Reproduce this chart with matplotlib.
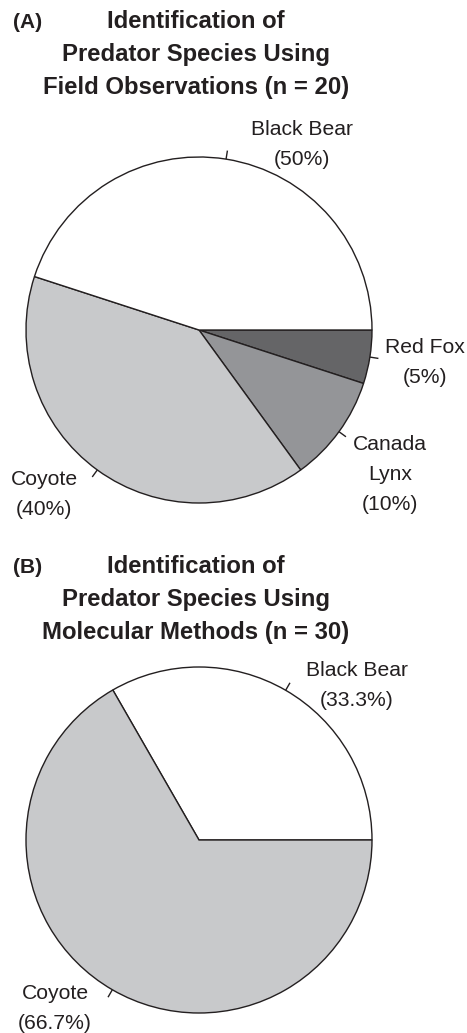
import numpy as np
import matplotlib
matplotlib.use("Agg")
import matplotlib.pyplot as plt

# ---------------- data ----------------
panel_a_tag = "(A)"
panel_a_title = ["Identification of", "Predator Species Using", "Field Observations (n = 20)"]
species_a = ["Black Bear", "Coyote", "Canada\nLynx", "Red Fox"]
pct_a = [50, 40, 10, 5]

panel_b_tag = "(B)"
panel_b_title = ["Identification of", "Predator Species Using", "Molecular Methods (n = 30)"]
species_b = ["Black Bear", "Coyote"]
pct_b = [33.3, 66.7]

colors = {"Black Bear": "#ffffff", "Coyote": "#c8c9cb", "Canada\nLynx": "#949598", "Red Fox": "#656567"}
EDGE = "#231f20"
TXT = "#231f20"
FONT = "Liberation Sans"

W, H = 467, 1033
fig = plt.figure(figsize=(W / 100, H / 100), dpi=100)


def fx(x):
    return x / W


def fy(y):
    return 1 - y / H


def make_ax(cx, cy, r):
    ax = fig.add_axes([fx(cx - r), fy(cy + r), 2 * r / W, 2 * r / H])
    return ax


def draw_pie(ax, sizes, names, counterclock):
    wedges, _ = ax.pie(sizes, startangle=0, counterclock=counterclock,
                       colors=[colors[n] for n in names],
                       wedgeprops=dict(edgecolor=EDGE, linewidth=1.0))
    ax.set_xlim(-1, 1)
    ax.set_ylim(-1, 1)
    ax.set_aspect("auto")
    ax.axis("off")
    for w in wedges:
        w.set_clip_on(False)
        mid = np.deg2rad((w.theta1 + w.theta2) / 2)
        ax.plot([np.cos(mid), 1.05 * np.cos(mid)], [np.sin(mid), 1.05 * np.sin(mid)],
                color=EDGE, lw=1.0, clip_on=False, solid_capstyle="butt")
    return wedges


def label(x, y, name, pct, spacing=30):
    lines = name.split("\n") + [f"({pct:g}%)"]
    for i, ln in enumerate(lines):
        fig.text(fx(x), fy(y + i * spacing), ln, ha="center", va="baseline",
                 fontsize=15.2, color=TXT, family=FONT)


def title(tag, lines, y0):
    fig.text(fx(13), fy(y0), tag, ha="left", va="baseline", fontsize=15,
             fontweight="bold", color=TXT, family=FONT)
    for i, ln in enumerate(lines):
        fig.text(fx(196), fy(y0 + i * 33), ln, ha="center", va="baseline",
                 fontsize=17.2, fontweight="bold", color=TXT, family=FONT)


# ---------------- panel A ----------------
title(panel_a_tag, panel_a_title, 28)
axA = make_ax(199, 330, 173)
# drawn clockwise from east: Red Fox, Canada Lynx, Coyote, then Black Bear fills the rest
order_a = [3, 2, 1]
sizes_a = [pct_a[i] for i in order_a]
sizes_a.append(100 - sum(sizes_a))
names_a = [species_a[i] for i in order_a] + [species_a[0]]
draw_pie(axA, sizes_a, names_a, counterclock=False)

label_pos_a = {"Black Bear": (302, 135), "Red Fox": (425, 353),
               "Canada\nLynx": (390, 450), "Coyote": (44, 485)}
for n, p in zip(species_a, pct_a):
    label(*label_pos_a[n], n, p)

# ---------------- panel B ----------------
title(panel_b_tag, panel_b_title, 573)
axB = make_ax(199, 840, 173)
draw_pie(axB, pct_b, species_b, counterclock=True)
label_pos_b = {"Black Bear": (357, 676), "Coyote": (55, 999)}
for n, p in zip(species_b, pct_b):
    label(*label_pos_b[n], n, p, spacing=30)

fig.savefig("out.png", dpi=100, facecolor="white")
